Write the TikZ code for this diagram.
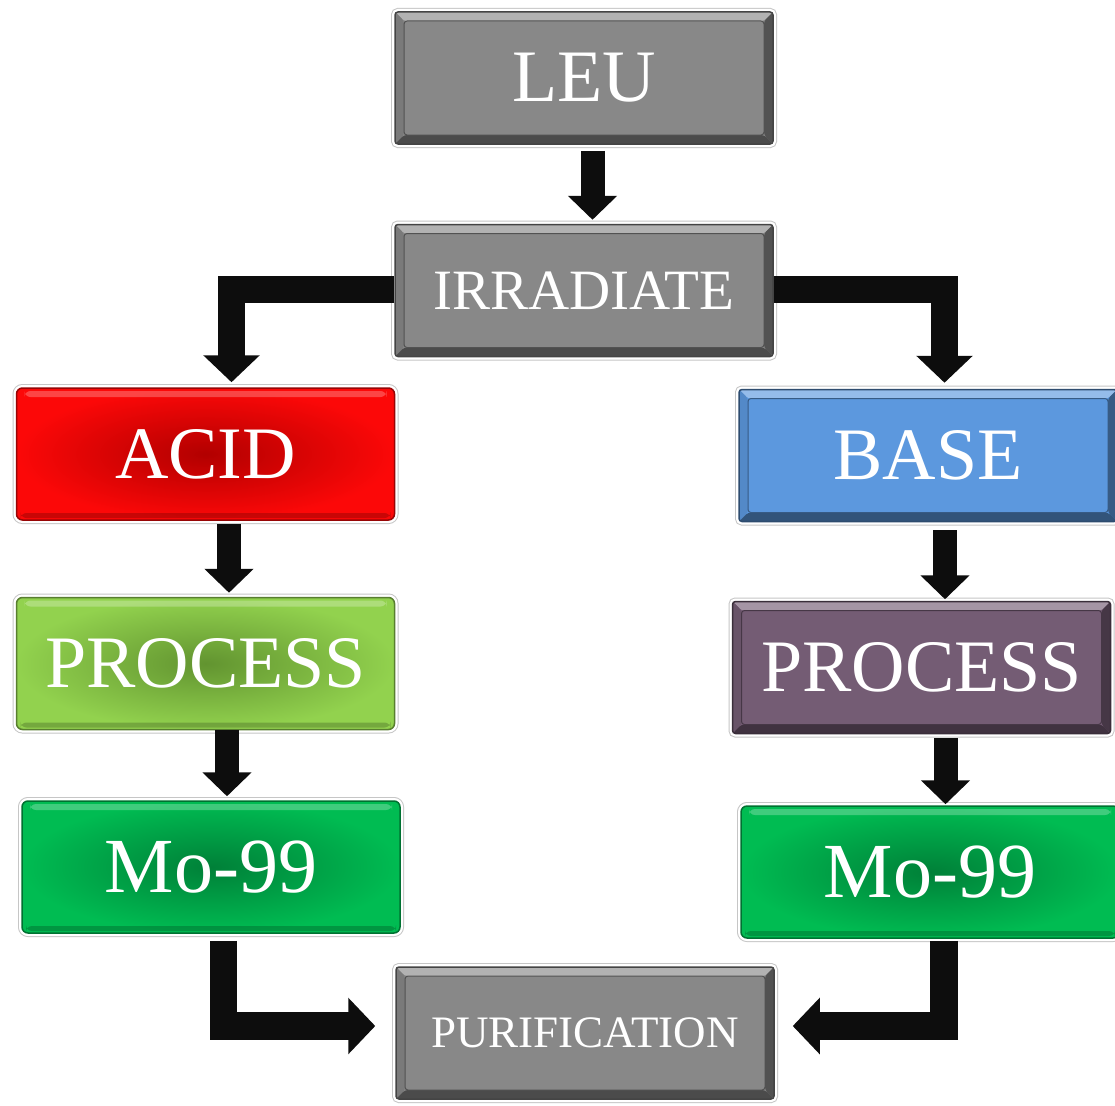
\documentclass[tikz,border=0pt]{standalone}
\usepackage{fontspec}
\setmainfont{Liberation Serif}
\usetikzlibrary{arrows.meta, positioning}
\definecolor{slate}{RGB}{136,136,136}
\definecolor{acidred}{RGB}{252,8,8}
\definecolor{aciddeep}{RGB}{178,0,0}
\definecolor{basebl}{RGB}{92,152,222}
\definecolor{plum}{RGB}{116,92,116}
\definecolor{lime}{RGB}{146,210,78}
\definecolor{limedeep}{RGB}{98,148,48}
\definecolor{moly}{RGB}{0,188,82}
\definecolor{molydeep}{RGB}{0,128,56}
\definecolor{ink}{RGB}{13,13,13}

\begin{document}
\begin{tikzpicture}[
    x=1pt, y=-1pt,
    box/.style={rectangle, rounded corners=3pt, minimum width=378pt, minimum height=132pt, inner sep=0pt, text=white, font=\fontsize{74}{80}\selectfont,
        preaction={draw=gray!45, line width=8pt}, preaction={draw=white, line width=6pt}},
    bevel/.style={box, fill=#1, draw=#1!50!black, line width=1.5pt,
        path picture={
            \path (path picture bounding box.north west) coordinate (pnw) (path picture bounding box.north east) coordinate (pne)
                  (path picture bounding box.south west) coordinate (psw) (path picture bounding box.south east) coordinate (pse);
            \fill[#1!65!white] (pnw) -- (pne) -- ([shift={(-9pt,-9pt)}]pne) -- ([shift={(9pt,-9pt)}]pnw) -- cycle;
            \fill[#1!90!black] (pnw) -- ([shift={(9pt,-9pt)}]pnw) -- ([shift={(9pt,9pt)}]psw) -- (psw) -- cycle;
            \fill[#1!60!black] (pne) -- ([shift={(-9pt,-9pt)}]pne) -- ([shift={(-9pt,9pt)}]pse) -- (pse) -- cycle;
            \fill[#1!55!black] (psw) -- ([shift={(9pt,9pt)}]psw) -- ([shift={(-9pt,9pt)}]pse) -- (pse) -- cycle;
            \draw[#1!60!black, line width=1pt] ([shift={(9pt,-9pt)}]pnw) rectangle ([shift={(-9pt,9pt)}]pse);
        }},
    glossy/.style 2 args={box, rounded corners=6pt, inner color=#2, outer color=#1, draw=#1!60!black, line width=1.5pt,
        path picture={
            \fill[white, opacity=0.25] ([shift={(8pt,-3pt)}]path picture bounding box.north west) rectangle ([shift={(-8pt,-9pt)}]path picture bounding box.north east);
            \fill[black, opacity=0.2] ([shift={(4pt,7pt)}]path picture bounding box.south west) rectangle ([shift={(-4pt,2pt)}]path picture bounding box.south east);
        }},
    arrow/.style={draw=ink, line width=24pt, -{Triangle[width=48pt,length=24pt]}},
    bent/.style={draw=ink, line width=27.5pt, line join=miter, -{Triangle[width=55pt,length=27pt]}}
]
\path[use as bounding box, fill=white] (0,0) rectangle (1115,1105);

% top of the chain
\node[bevel=slate] (leu) at (584,78) {LEU};
\node[bevel=slate, font=\fontsize{57}{62}\selectfont] (irradiate) at (584,290.5) {IRRADIATE};

% acid route
\node[glossy={acidred}{aciddeep}] (acid) at (205.5,454) {ACID};
\node[glossy={lime}{limedeep}] (acidproc) at (205.5,663.5) {PROCESS};
\node[glossy={moly}{molydeep}, font=\fontsize{78}{84}\selectfont] (acidmo) at (211,867) {Mo-99};

% base route
\node[bevel=basebl] (base) at (928,455.5) {BASE};
\node[bevel=plum] (baseproc) at (921.5,667.5) {PROCESS};
\node[glossy={moly}{molydeep}, font=\fontsize{78}{84}\selectfont] (basemo) at (930,872) {Mo-99};

% end of the chain
\node[bevel=slate, font=\fontsize{45}{50}\selectfont] (purify) at (585,1033) {PURIFICATION};

\draw[arrow, shorten <=6pt, shorten >=4pt] ([xshift=8.5pt]leu.south) -- ([xshift=8.5pt]leu.south |- irradiate.north);
\draw[bent, shorten >=5pt] ([yshift=1pt]irradiate.west) -| ([xshift=26pt]acid.north);
\draw[bent, shorten >=6pt] ([yshift=1pt]irradiate.east) -| ([xshift=16.5pt]base.north);

\draw[arrow, shorten <=3pt, shorten >=4pt] ([xshift=23.5pt]acid.south) -- ([xshift=23.5pt]acid.south |- acidproc.north);
\draw[arrow, shorten >=4pt] ([xshift=21.5pt]acidproc.south) -- ([xshift=21.5pt]acidproc.south |- acidmo.north);
\draw[arrow, shorten <=8pt, shorten >=1.5pt] ([xshift=17pt]base.south) -- ([xshift=17pt]base.south |- baseproc.north);
\draw[arrow, shorten <=3.5pt, shorten >=1pt] ([xshift=24pt]baseproc.south) -- ([xshift=24pt]baseproc.south |- basemo.north);

\draw[bent, shorten <=7pt, shorten >=20pt] ([xshift=12.5pt]acidmo.south) |- ([yshift=7pt]purify.west);
\draw[bent, shorten <=2pt, shorten >=18pt] ([xshift=14pt]basemo.south) |- ([yshift=7pt]purify.east);

\end{tikzpicture}
\end{document}
